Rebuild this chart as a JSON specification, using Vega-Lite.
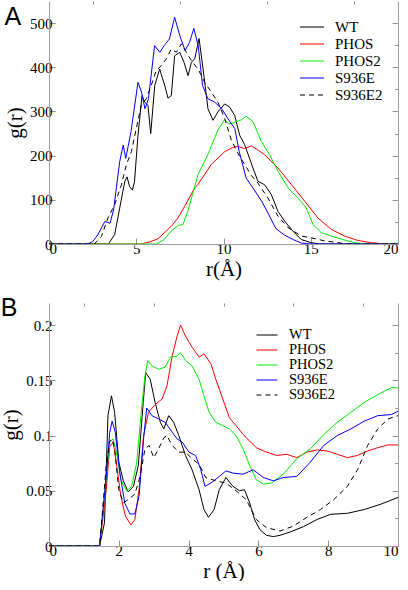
{
"$schema": "https://vega.github.io/schema/vega-lite/v6.json",
"padding": {"left": 0, "top": 0, "right": 0, "bottom": 0},
"background": "white",
"config": {
  "font": "Liberation Serif",
  "view": {"stroke": null},
  "axis": {"grid": false, "labelFont": "Liberation Serif", "labelFontSize": 15, "labelColor": "#000", "titleFont": "Liberation Serif", "titleFontSize": 21, "titleFontWeight": "normal", "titleColor": "#000", "domainColor": "#a0a0a0", "tickColor": "#909090", "tickSize": -6, "labelPadding": 3},
  "legend": {"orient": "none", "symbolType": "M-1.5,0H1.5", "symbolStrokeWidth": 1.2, "labelFont": "Liberation Serif", "labelColor": "#000", "labelOffset": 14},
  "title": {"font": "Liberation Sans", "fontSize": 25, "fontWeight": "normal", "color": "#000"}
},
"datasets": {
"a": [
{"s":"WT","r":0,"g":0},{"s":"WT","r":3.4,"g":0},{"s":"WT","r":3.76,"g":21},{"s":"WT","r":4.05,"g":81},{"s":"WT","r":4.34,"g":141},{"s":"WT","r":4.47,"g":152},{"s":"WT","r":4.62,"g":130},{"s":"WT","r":4.78,"g":122},{"s":"WT","r":4.9,"g":141},{"s":"WT","r":5.1,"g":246},{"s":"WT","r":5.33,"g":336},{"s":"WT","r":5.48,"g":321},{"s":"WT","r":5.67,"g":314},{"s":"WT","r":5.83,"g":250},{"s":"WT","r":6.06,"g":359},{"s":"WT","r":6.34,"g":396},{"s":"WT","r":6.63,"g":359},{"s":"WT","r":6.82,"g":330},{"s":"WT","r":7.01,"g":336},{"s":"WT","r":7.2,"g":426},{"s":"WT","r":7.49,"g":434},{"s":"WT","r":7.74,"g":411},{"s":"WT","r":7.97,"g":381},{"s":"WT","r":8.16,"g":411},{"s":"WT","r":8.35,"g":419},{"s":"WT","r":8.6,"g":465},{"s":"WT","r":8.83,"g":396},{"s":"WT","r":9.11,"g":306},{"s":"WT","r":9.4,"g":280},{"s":"WT","r":9.68,"g":299},{"s":"WT","r":10.07,"g":317},{"s":"WT","r":10.35,"g":310},{"s":"WT","r":10.64,"g":291},{"s":"WT","r":10.93,"g":246},{"s":"WT","r":11.21,"g":225},{"s":"WT","r":11.69,"g":172},{"s":"WT","r":11.97,"g":142},{"s":"WT","r":12.36,"g":134},{"s":"WT","r":12.74,"g":112},{"s":"WT","r":13.12,"g":74},{"s":"WT","r":13.5,"g":52},{"s":"WT","r":13.98,"g":29},{"s":"WT","r":14.46,"g":10},{"s":"WT","r":15.03,"g":3},{"s":"WT","r":15.5,"g":0},{"s":"WT","r":20,"g":0},
{"s":"PHOS","r":0,"g":0},{"s":"PHOS","r":5.3,"g":0},{"s":"PHOS","r":5.8,"g":5},{"s":"PHOS","r":6.25,"g":12},{"s":"PHOS","r":7.0,"g":40},{"s":"PHOS","r":7.39,"g":59},{"s":"PHOS","r":7.77,"g":85},{"s":"PHOS","r":8.35,"g":127},{"s":"PHOS","r":8.54,"g":135},{"s":"PHOS","r":9.3,"g":180},{"s":"PHOS","r":10.07,"g":209},{"s":"PHOS","r":10.5,"g":218},{"s":"PHOS","r":10.83,"g":221},{"s":"PHOS","r":11.2,"g":216},{"s":"PHOS","r":11.59,"g":222},{"s":"PHOS","r":12.0,"g":212},{"s":"PHOS","r":12.36,"g":202},{"s":"PHOS","r":13.12,"g":172},{"s":"PHOS","r":13.88,"g":135},{"s":"PHOS","r":14.65,"g":97},{"s":"PHOS","r":15.41,"g":59},{"s":"PHOS","r":16.18,"g":33},{"s":"PHOS","r":16.94,"g":18},{"s":"PHOS","r":17.7,"g":8},{"s":"PHOS","r":18.47,"g":3},{"s":"PHOS","r":19.3,"g":0},{"s":"PHOS","r":20,"g":0},
{"s":"PHOS2","r":0,"g":0},{"s":"PHOS2","r":6.15,"g":0},{"s":"PHOS2","r":6.6,"g":10},{"s":"PHOS2","r":7.0,"g":29},{"s":"PHOS2","r":7.4,"g":42},{"s":"PHOS2","r":7.68,"g":44},{"s":"PHOS2","r":7.97,"g":76},{"s":"PHOS2","r":8.54,"g":157},{"s":"PHOS2","r":9.1,"g":202},{"s":"PHOS2","r":9.68,"g":258},{"s":"PHOS2","r":10.06,"g":281},{"s":"PHOS2","r":10.3,"g":272},{"s":"PHOS2","r":10.54,"g":274},{"s":"PHOS2","r":11.02,"g":281},{"s":"PHOS2","r":11.3,"g":289},{"s":"PHOS2","r":11.69,"g":277},{"s":"PHOS2","r":12.17,"g":232},{"s":"PHOS2","r":12.64,"g":202},{"s":"PHOS2","r":13.12,"g":165},{"s":"PHOS2","r":13.7,"g":127},{"s":"PHOS2","r":14.27,"g":104},{"s":"PHOS2","r":14.74,"g":82},{"s":"PHOS2","r":15.13,"g":44},{"s":"PHOS2","r":15.6,"g":26},{"s":"PHOS2","r":16.18,"g":18},{"s":"PHOS2","r":16.75,"g":11},{"s":"PHOS2","r":17.5,"g":3},{"s":"PHOS2","r":18.1,"g":0},{"s":"PHOS2","r":20,"g":0},
{"s":"S936E","r":0,"g":0},{"s":"S936E","r":2.2,"g":0},{"s":"S936E","r":2.5,"g":5},{"s":"S936E","r":2.8,"g":21},{"s":"S936E","r":3.2,"g":51},{"s":"S936E","r":3.5,"g":47},{"s":"S936E","r":3.7,"g":77},{"s":"S936E","r":4.05,"g":186},{"s":"S936E","r":4.25,"g":224},{"s":"S936E","r":4.4,"g":194},{"s":"S936E","r":4.7,"g":254},{"s":"S936E","r":5.1,"g":366},{"s":"S936E","r":5.3,"g":344},{"s":"S936E","r":5.5,"g":306},{"s":"S936E","r":5.7,"g":329},{"s":"S936E","r":6.05,"g":449},{"s":"S936E","r":6.35,"g":434},{"s":"S936E","r":6.6,"g":449},{"s":"S936E","r":6.9,"g":464},{"s":"S936E","r":7.2,"g":513},{"s":"S936E","r":7.5,"g":471},{"s":"S936E","r":7.8,"g":438},{"s":"S936E","r":8.05,"g":456},{"s":"S936E","r":8.3,"g":488},{"s":"S936E","r":8.55,"g":449},{"s":"S936E","r":8.8,"g":359},{"s":"S936E","r":9.1,"g":329},{"s":"S936E","r":9.5,"g":321},{"s":"S936E","r":9.9,"g":306},{"s":"S936E","r":10.25,"g":284},{"s":"S936E","r":10.65,"g":261},{"s":"S936E","r":10.9,"g":209},{"s":"S936E","r":11.3,"g":149},{"s":"S936E","r":11.7,"g":126},{"s":"S936E","r":12.2,"g":96},{"s":"S936E","r":12.55,"g":70},{"s":"S936E","r":13.0,"g":35},{"s":"S936E","r":13.5,"g":20},{"s":"S936E","r":14.0,"g":10},{"s":"S936E","r":14.45,"g":2},{"s":"S936E","r":15,"g":0},{"s":"S936E","r":20,"g":0},
{"s":"S936E2","r":0,"g":0},{"s":"S936E2","r":2.6,"g":0},{"s":"S936E2","r":3.0,"g":17},{"s":"S936E2","r":3.38,"g":59},{"s":"S936E2","r":3.76,"g":89},{"s":"S936E2","r":4.15,"g":134},{"s":"S936E2","r":4.43,"g":179},{"s":"S936E2","r":4.72,"g":209},{"s":"S936E2","r":5.0,"g":261},{"s":"S936E2","r":5.29,"g":314},{"s":"S936E2","r":5.58,"g":329},{"s":"S936E2","r":5.86,"g":359},{"s":"S936E2","r":6.15,"g":393},{"s":"S936E2","r":6.44,"g":404},{"s":"S936E2","r":6.72,"g":419},{"s":"S936E2","r":7.0,"g":441},{"s":"S936E2","r":7.3,"g":434},{"s":"S936E2","r":7.58,"g":453},{"s":"S936E2","r":7.87,"g":434},{"s":"S936E2","r":8.16,"g":415},{"s":"S936E2","r":8.54,"g":396},{"s":"S936E2","r":8.92,"g":366},{"s":"S936E2","r":9.3,"g":344},{"s":"S936E2","r":9.68,"g":321},{"s":"S936E2","r":10.07,"g":284},{"s":"S936E2","r":10.45,"g":235},{"s":"S936E2","r":10.83,"g":205},{"s":"S936E2","r":11.21,"g":180},{"s":"S936E2","r":11.6,"g":155},{"s":"S936E2","r":11.97,"g":138},{"s":"S936E2","r":12.55,"g":104},{"s":"S936E2","r":13.12,"g":63},{"s":"S936E2","r":13.7,"g":37},{"s":"S936E2","r":14.46,"g":18},{"s":"S936E2","r":15.03,"g":14},{"s":"S936E2","r":15.8,"g":7},{"s":"S936E2","r":16.6,"g":3},{"s":"S936E2","r":17,"g":0},{"s":"S936E2","r":20,"g":0}
],
"b": [
{"s":"WT","r":0,"g":0},{"s":"WT","r":1.45,"g":0},{"s":"WT","r":1.59,"g":0.021},{"s":"WT","r":1.69,"g":0.118},{"s":"WT","r":1.79,"g":0.136},{"s":"WT","r":1.88,"g":0.121},{"s":"WT","r":2.0,"g":0.076},{"s":"WT","r":2.13,"g":0.059},{"s":"WT","r":2.27,"g":0.049},{"s":"WT","r":2.42,"g":0.054},{"s":"WT","r":2.56,"g":0.073},{"s":"WT","r":2.7,"g":0.13},{"s":"WT","r":2.77,"g":0.157},{"s":"WT","r":2.9,"g":0.151},{"s":"WT","r":3.04,"g":0.13},{"s":"WT","r":3.19,"g":0.112},{"s":"WT","r":3.29,"g":0.106},{"s":"WT","r":3.43,"g":0.118},{"s":"WT","r":3.57,"g":0.112},{"s":"WT","r":3.72,"g":0.1},{"s":"WT","r":3.91,"g":0.082},{"s":"WT","r":4.1,"g":0.069},{"s":"WT","r":4.3,"g":0.051},{"s":"WT","r":4.44,"g":0.033},{"s":"WT","r":4.57,"g":0.026},{"s":"WT","r":4.73,"g":0.033},{"s":"WT","r":4.88,"g":0.051},{"s":"WT","r":5.07,"g":0.062},{"s":"WT","r":5.27,"g":0.054},{"s":"WT","r":5.46,"g":0.05},{"s":"WT","r":5.6,"g":0.051},{"s":"WT","r":5.75,"g":0.039},{"s":"WT","r":5.89,"g":0.024},{"s":"WT","r":6.04,"g":0.015},{"s":"WT","r":6.23,"g":0.0097},{"s":"WT","r":6.43,"g":0.0085},{"s":"WT","r":6.62,"g":0.0097},{"s":"WT","r":6.91,"g":0.0127},{"s":"WT","r":7.29,"g":0.0175},{"s":"WT","r":7.68,"g":0.024},{"s":"WT","r":8.07,"g":0.0287},{"s":"WT","r":8.55,"g":0.0296},{"s":"WT","r":9.03,"g":0.033},{"s":"WT","r":9.52,"g":0.038},{"s":"WT","r":10,"g":0.044},
{"s":"PHOS","r":0,"g":0},{"s":"PHOS","r":1.45,"g":0},{"s":"PHOS","r":1.64,"g":0.051},{"s":"PHOS","r":1.74,"g":0.09},{"s":"PHOS","r":1.84,"g":0.094},{"s":"PHOS","r":1.93,"g":0.075},{"s":"PHOS","r":2.06,"g":0.045},{"s":"PHOS","r":2.19,"g":0.027},{"s":"PHOS","r":2.35,"g":0.019},{"s":"PHOS","r":2.46,"g":0.024},{"s":"PHOS","r":2.58,"g":0.051},{"s":"PHOS","r":2.71,"g":0.1},{"s":"PHOS","r":2.85,"g":0.121},{"s":"PHOS","r":3.04,"g":0.128},{"s":"PHOS","r":3.24,"g":0.133},{"s":"PHOS","r":3.38,"g":0.145},{"s":"PHOS","r":3.53,"g":0.172},{"s":"PHOS","r":3.67,"g":0.19},{"s":"PHOS","r":3.77,"g":0.2},{"s":"PHOS","r":3.91,"g":0.19},{"s":"PHOS","r":4.1,"g":0.18},{"s":"PHOS","r":4.3,"g":0.171},{"s":"PHOS","r":4.44,"g":0.174},{"s":"PHOS","r":4.64,"g":0.165},{"s":"PHOS","r":4.78,"g":0.151},{"s":"PHOS","r":4.98,"g":0.133},{"s":"PHOS","r":5.17,"g":0.116},{"s":"PHOS","r":5.36,"g":0.109},{"s":"PHOS","r":5.56,"g":0.101},{"s":"PHOS","r":5.75,"g":0.095},{"s":"PHOS","r":5.94,"g":0.089},{"s":"PHOS","r":6.23,"g":0.085},{"s":"PHOS","r":6.52,"g":0.082},{"s":"PHOS","r":6.81,"g":0.083},{"s":"PHOS","r":7.1,"g":0.08},{"s":"PHOS","r":7.39,"g":0.085},{"s":"PHOS","r":7.68,"g":0.087},{"s":"PHOS","r":7.97,"g":0.086},{"s":"PHOS","r":8.26,"g":0.083},{"s":"PHOS","r":8.55,"g":0.08},{"s":"PHOS","r":8.84,"g":0.082},{"s":"PHOS","r":9.13,"g":0.086},{"s":"PHOS","r":9.42,"g":0.089},{"s":"PHOS","r":9.71,"g":0.0915},{"s":"PHOS","r":10,"g":0.0915},
{"s":"PHOS2","r":0,"g":0},{"s":"PHOS2","r":1.45,"g":0},{"s":"PHOS2","r":1.64,"g":0.063},{"s":"PHOS2","r":1.74,"g":0.094},{"s":"PHOS2","r":1.84,"g":0.097},{"s":"PHOS2","r":1.93,"g":0.085},{"s":"PHOS2","r":2.06,"g":0.06},{"s":"PHOS2","r":2.22,"g":0.05},{"s":"PHOS2","r":2.37,"g":0.054},{"s":"PHOS2","r":2.51,"g":0.075},{"s":"PHOS2","r":2.66,"g":0.127},{"s":"PHOS2","r":2.75,"g":0.154},{"s":"PHOS2","r":2.83,"g":0.168},{"s":"PHOS2","r":2.95,"g":0.163},{"s":"PHOS2","r":3.14,"g":0.16},{"s":"PHOS2","r":3.33,"g":0.162},{"s":"PHOS2","r":3.48,"g":0.171},{"s":"PHOS2","r":3.67,"g":0.172},{"s":"PHOS2","r":3.77,"g":0.175},{"s":"PHOS2","r":3.91,"g":0.168},{"s":"PHOS2","r":4.1,"g":0.163},{"s":"PHOS2","r":4.3,"g":0.151},{"s":"PHOS2","r":4.44,"g":0.136},{"s":"PHOS2","r":4.59,"g":0.121},{"s":"PHOS2","r":4.78,"g":0.112},{"s":"PHOS2","r":4.98,"g":0.109},{"s":"PHOS2","r":5.17,"g":0.106},{"s":"PHOS2","r":5.36,"g":0.1},{"s":"PHOS2","r":5.56,"g":0.088},{"s":"PHOS2","r":5.75,"g":0.073},{"s":"PHOS2","r":5.94,"g":0.06},{"s":"PHOS2","r":6.14,"g":0.056},{"s":"PHOS2","r":6.38,"g":0.057},{"s":"PHOS2","r":6.71,"g":0.065},{"s":"PHOS2","r":7.1,"g":0.079},{"s":"PHOS2","r":7.49,"g":0.088},{"s":"PHOS2","r":7.87,"g":0.101},{"s":"PHOS2","r":8.26,"g":0.112},{"s":"PHOS2","r":8.65,"g":0.121},{"s":"PHOS2","r":9.03,"g":0.13},{"s":"PHOS2","r":9.42,"g":0.137},{"s":"PHOS2","r":9.81,"g":0.1435},{"s":"PHOS2","r":10,"g":0.143},
{"s":"S936E","r":0,"g":0},{"s":"S936E","r":1.45,"g":0},{"s":"S936E","r":1.64,"g":0.063},{"s":"S936E","r":1.74,"g":0.103},{"s":"S936E","r":1.81,"g":0.113},{"s":"S936E","r":1.9,"g":0.103},{"s":"S936E","r":2.03,"g":0.066},{"s":"S936E","r":2.17,"g":0.039},{"s":"S936E","r":2.32,"g":0.029},{"s":"S936E","r":2.46,"g":0.029},{"s":"S936E","r":2.58,"g":0.045},{"s":"S936E","r":2.71,"g":0.097},{"s":"S936E","r":2.8,"g":0.125},{"s":"S936E","r":2.95,"g":0.118},{"s":"S936E","r":3.14,"g":0.115},{"s":"S936E","r":3.33,"g":0.112},{"s":"S936E","r":3.53,"g":0.103},{"s":"S936E","r":3.67,"g":0.097},{"s":"S936E","r":3.82,"g":0.094},{"s":"S936E","r":4.01,"g":0.085},{"s":"S936E","r":4.2,"g":0.082},{"s":"S936E","r":4.35,"g":0.069},{"s":"S936E","r":4.47,"g":0.054},{"s":"S936E","r":4.64,"g":0.057},{"s":"S936E","r":4.88,"g":0.063},{"s":"S936E","r":5.07,"g":0.068},{"s":"S936E","r":5.27,"g":0.066},{"s":"S936E","r":5.56,"g":0.065},{"s":"S936E","r":5.85,"g":0.069},{"s":"S936E","r":6.14,"g":0.062},{"s":"S936E","r":6.43,"g":0.059},{"s":"S936E","r":6.71,"g":0.062},{"s":"S936E","r":7.1,"g":0.063},{"s":"S936E","r":7.49,"g":0.076},{"s":"S936E","r":7.87,"g":0.091},{"s":"S936E","r":8.26,"g":0.1},{"s":"S936E","r":8.65,"g":0.106},{"s":"S936E","r":9.03,"g":0.113},{"s":"S936E","r":9.42,"g":0.118},{"s":"S936E","r":9.81,"g":0.119},{"s":"S936E","r":10,"g":0.122},
{"s":"S936E2","r":0,"g":0},{"s":"S936E2","r":1.45,"g":0},{"s":"S936E2","r":1.64,"g":0.073},{"s":"S936E2","r":1.74,"g":0.095},{"s":"S936E2","r":1.81,"g":0.097},{"s":"S936E2","r":1.88,"g":0.088},{"s":"S936E2","r":2.0,"g":0.051},{"s":"S936E2","r":2.13,"g":0.039},{"s":"S936E2","r":2.27,"g":0.042},{"s":"S936E2","r":2.46,"g":0.047},{"s":"S936E2","r":2.61,"g":0.063},{"s":"S936E2","r":2.75,"g":0.088},{"s":"S936E2","r":2.87,"g":0.091},{"s":"S936E2","r":3.0,"g":0.08},{"s":"S936E2","r":3.14,"g":0.088},{"s":"S936E2","r":3.29,"g":0.098},{"s":"S936E2","r":3.38,"g":0.1},{"s":"S936E2","r":3.53,"g":0.091},{"s":"S936E2","r":3.72,"g":0.085},{"s":"S936E2","r":3.91,"g":0.085},{"s":"S936E2","r":4.1,"g":0.079},{"s":"S936E2","r":4.3,"g":0.074},{"s":"S936E2","r":4.49,"g":0.062},{"s":"S936E2","r":4.78,"g":0.059},{"s":"S936E2","r":5.07,"g":0.057},{"s":"S936E2","r":5.36,"g":0.05},{"s":"S936E2","r":5.65,"g":0.042},{"s":"S936E2","r":5.94,"g":0.024},{"s":"S936E2","r":6.23,"g":0.0166},{"s":"S936E2","r":6.62,"g":0.0136},{"s":"S936E2","r":7.0,"g":0.018},{"s":"S936E2","r":7.39,"g":0.026},{"s":"S936E2","r":7.78,"g":0.033},{"s":"S936E2","r":8.16,"g":0.042},{"s":"S936E2","r":8.55,"g":0.054},{"s":"S936E2","r":8.84,"g":0.069},{"s":"S936E2","r":9.13,"g":0.091},{"s":"S936E2","r":9.42,"g":0.106},{"s":"S936E2","r":9.71,"g":0.115},{"s":"S936E2","r":10,"g":0.118}
]
},
"spacing": 16,
"resolve": {"scale": {"color": "independent"}, "legend": {"color": "independent"}},
"vconcat": [
{
  "title": {"text": "A", "anchor": "start", "frame": "bounds", "offset": 0, "dy": 29},
  "width": 349, "height": 243,
  "data": {"name": "a"},
  "layer": [
    {"mark": {"type": "line", "strokeWidth": 1, "clip": true},
     "transform": [{"filter": "datum.s !== 'S936E2'"}],
     "encoding": {
       "x": {"field": "r", "type": "quantitative", "scale": {"domain": [0, 20], "nice": false}, "axis": {"values": [0, 5, 10, 15, 20], "title": "r(Å)", "titlePadding": 2}},
       "y": {"field": "g", "type": "quantitative", "scale": {"domain": [0, 550], "nice": false}, "axis": {"values": [0, 100, 200, 300, 400, 500], "title": "g(r)", "titlePadding": 4}},
       "color": {"field": "s", "type": "nominal", "scale": {"domain": ["WT", "PHOS", "PHOS2", "S936E", "S936E2"], "range": ["#000000", "#ff0000", "#00ee00", "#0000ff", "#000000"]},
         "legend": {"title": null, "legendX": 254, "legendY": 17, "symbolSize": 256, "labelFontSize": 15, "rowPadding": -2.7, "encode": {"symbols": {"update": {"strokeDash": {"signal": "datum.value === 'S936E2' ? [5, 4] : [1, 0]"}}}}}}
     }},
    {"mark": {"type": "line", "strokeWidth": 1, "strokeDash": [5, 4], "clip": true},
     "transform": [{"filter": "datum.s === 'S936E2'"}],
     "encoding": {
       "x": {"field": "r", "type": "quantitative", "scale": {"domain": [0, 20], "nice": false}, "axis": null},
       "y": {"field": "g", "type": "quantitative", "scale": {"domain": [0, 550], "nice": false}, "axis": null},
       "color": {"field": "s", "type": "nominal"}
     }},
    {"mark": {"type": "line", "strokeOpacity": 0},
     "encoding": {
       "x": {"field": "r", "type": "quantitative", "scale": {"domain": [0, 20], "nice": false}, "axis": {"values": [2.5, 7.5, 12.5, 17.5], "labels": false, "domain": false, "title": null, "tickSize": -3}},
       "y": {"field": "g", "type": "quantitative", "scale": {"domain": [0, 550], "nice": false}, "axis": {"values": [50, 150, 250, 350, 450], "labels": false, "domain": false, "title": null, "tickSize": -3}},
       "detail": {"field": "s"}
     }},
    {"mark": {"type": "line", "strokeOpacity": 0},
     "encoding": {
       "x": {"field": "r", "type": "quantitative", "scale": {"domain": [0, 20], "nice": false}, "axis": null},
       "y": {"field": "g", "type": "quantitative", "scale": {"domain": [0, 550], "nice": false}, "axis": {"orient": "right", "values": [0, 100, 200, 300, 400, 500], "labels": false, "title": null}},
       "detail": {"field": "s"}
     }},
    {"mark": {"type": "line", "strokeOpacity": 0},
     "encoding": {
       "x": {"field": "r", "type": "quantitative", "scale": {"domain": [0, 20], "nice": false}, "axis": null},
       "y": {"field": "g", "type": "quantitative", "scale": {"domain": [0, 550], "nice": false}, "axis": {"orient": "right", "values": [50, 150, 250, 350, 450], "labels": false, "domain": false, "title": null, "tickSize": -3}},
       "detail": {"field": "s"}
     }}
  ],
  "resolve": {"axis": {"x": "independent", "y": "independent"}}
},
{
  "title": {"text": "B", "anchor": "start", "frame": "bounds", "offset": 0, "dy": 18},
  "width": 349, "height": 243,
  "data": {"name": "b"},
  "layer": [
    {"mark": {"type": "line", "strokeWidth": 1, "clip": true},
     "transform": [{"filter": "datum.s !== 'S936E2'"}],
     "encoding": {
       "x": {"field": "r", "type": "quantitative", "scale": {"domain": [0, 10], "nice": false}, "axis": {"values": [0, 2, 4, 6, 8, 10], "title": "r (Å)", "titlePadding": 2}},
       "y": {"field": "g", "type": "quantitative", "scale": {"domain": [0, 0.22], "nice": false}, "axis": {"values": [0, 0.05, 0.1, 0.15, 0.2], "format": "~g", "title": "g(r)", "titlePadding": 4}},
       "color": {"field": "s", "type": "nominal", "scale": {"domain": ["WT", "PHOS", "PHOS2", "S936E", "S936E2"], "range": ["#000000", "#ff0000", "#00ee00", "#0000ff", "#000000"]},
         "legend": {"title": null, "legendX": 210, "legendY": 24, "symbolSize": 196, "labelFontSize": 14.5, "rowPadding": -4.5, "encode": {"symbols": {"update": {"strokeDash": {"signal": "datum.value === 'S936E2' ? [5, 4] : [1, 0]"}}}}}}
     }},
    {"mark": {"type": "line", "strokeWidth": 1, "strokeDash": [5, 4], "clip": true},
     "transform": [{"filter": "datum.s === 'S936E2'"}],
     "encoding": {
       "x": {"field": "r", "type": "quantitative", "scale": {"domain": [0, 10], "nice": false}, "axis": null},
       "y": {"field": "g", "type": "quantitative", "scale": {"domain": [0, 0.22], "nice": false}, "axis": null},
       "color": {"field": "s", "type": "nominal"}
     }},
    {"mark": {"type": "line", "strokeOpacity": 0},
     "encoding": {
       "x": {"field": "r", "type": "quantitative", "scale": {"domain": [0, 10], "nice": false}, "axis": {"values": [1, 3, 5, 7, 9], "labels": false, "domain": false, "title": null, "tickSize": -3}},
       "y": {"field": "g", "type": "quantitative", "scale": {"domain": [0, 0.22], "nice": false}, "axis": {"values": [0.025, 0.075, 0.125, 0.175], "labels": false, "domain": false, "title": null, "tickSize": -3}},
       "detail": {"field": "s"}
     }},
    {"mark": {"type": "line", "strokeOpacity": 0},
     "encoding": {
       "x": {"field": "r", "type": "quantitative", "scale": {"domain": [0, 10], "nice": false}, "axis": null},
       "y": {"field": "g", "type": "quantitative", "scale": {"domain": [0, 0.22], "nice": false}, "axis": {"orient": "right", "values": [0, 0.05, 0.1, 0.15, 0.2], "labels": false, "title": null}},
       "detail": {"field": "s"}
     }},
    {"mark": {"type": "line", "strokeOpacity": 0},
     "encoding": {
       "x": {"field": "r", "type": "quantitative", "scale": {"domain": [0, 10], "nice": false}, "axis": null},
       "y": {"field": "g", "type": "quantitative", "scale": {"domain": [0, 0.22], "nice": false}, "axis": {"orient": "right", "values": [0.025, 0.075, 0.125, 0.175], "labels": false, "domain": false, "title": null, "tickSize": -3}},
       "detail": {"field": "s"}
     }}
  ],
  "resolve": {"axis": {"x": "independent", "y": "independent"}}
}
]
}
